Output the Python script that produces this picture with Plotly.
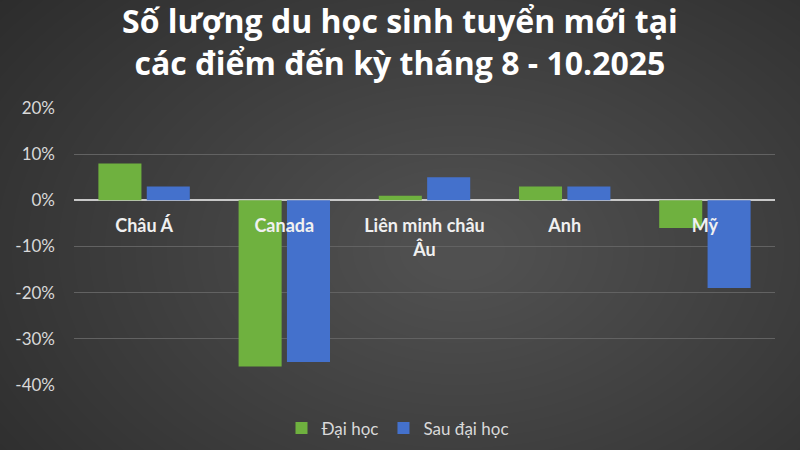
import plotly.graph_objects as go

# data
categories = ["Châu Á", "Canada", "Liên minh châu<br>Âu", "Anh", "Mỹ"]
dai_hoc = [0.08, -0.36, 0.01, 0.03, -0.06]
sau_dai_hoc = [0.03, -0.35, 0.05, 0.03, -0.19]
y_ticks = [0.2, 0.1, 0.0, -0.1, -0.2, -0.3, -0.4]
y_labels = ["20%", "10%", "0%", "-10%", "-20%", "-30%", "-40%"]
title_lines = ["Số lượng du học sinh tuyển mới tại", "các điểm đến kỳ tháng 8 - 10.2025"]

W, H = 800, 450
L, R, T, B = 74, 25, 108, 65

fig = go.Figure()
fig.add_trace(go.Bar(x=categories, y=dai_hoc, name="Đại học",
                     marker=dict(color="#6fb13f", line_width=0)))
fig.add_trace(go.Bar(x=categories, y=sau_dai_hoc, name="Sau đại học",
                     marker=dict(color="#4471cc", line_width=0)))

# soft radial background glow from stacked translucent ellipses
pw, ph = W - L - R, H - T - B
cx, cy = 460, 250
shapes = []
n = 40
for i in range(n):
    f = 1 - i / n
    rx, ry = 620 * f + 30, 420 * f + 20
    shapes.append(dict(type="circle", xref="paper", yref="paper", layer="below",
                       x0=(cx - rx - L) / pw, x1=(cx + rx - L) / pw,
                       y0=(H - B - (cy + ry)) / ph, y1=(H - B - (cy - ry)) / ph,
                       fillcolor="#ffffff", opacity=0.0072, line_width=0))

fig.update_layout(
    width=W, height=H,
    margin=dict(l=L, r=R, t=T, b=B, autoexpand=False),
    paper_bgcolor="#282828", plot_bgcolor="rgba(0,0,0,0)",
    shapes=shapes,
    barmode="group", bargap=0.31, bargroupgap=0.11,
    font=dict(family="Lato", color="#d9d9d9"),
    legend=dict(orientation="h", x=(398 - L) / pw, xanchor="center", y=-0.092, yanchor="top",
                font=dict(size=17, color="#d9d9d9"),
                traceorder="normal", bgcolor="rgba(0,0,0,0)"),
    showlegend=True,
    annotations=[dict(text="<br>".join(title_lines), xref="paper", yref="paper",
                      x=(400 - L) / pw, y=(H - B + 3) / ph, xanchor="center", yanchor="top",
                      showarrow=False, align="center",
                      font=dict(family="Open Sans", size=32, color="#ffffff", weight="bold"))],
)
fig.update_yaxes(range=[-0.4, 0.2], tickvals=y_ticks, ticktext=y_labels,
                 showgrid=True, gridcolor="#626262", gridwidth=1,
                 zeroline=True, zerolinecolor="#c8c8c8", zerolinewidth=2,
                 tickfont=dict(size=17, color="#d9d9d9"), ticklabelstandoff=18,
                 automargin=False)
fig.update_xaxes(anchor="free", position=2 / 3, showline=False, ticks="",
                 tickfont=dict(size=18, color="#f0f0f0", weight="bold"),
                 ticklabelstandoff=13, automargin=False)

fig.write_html("out.html", config={"displayModeBar": False},
               post_script="document.body.style.margin='0';")
